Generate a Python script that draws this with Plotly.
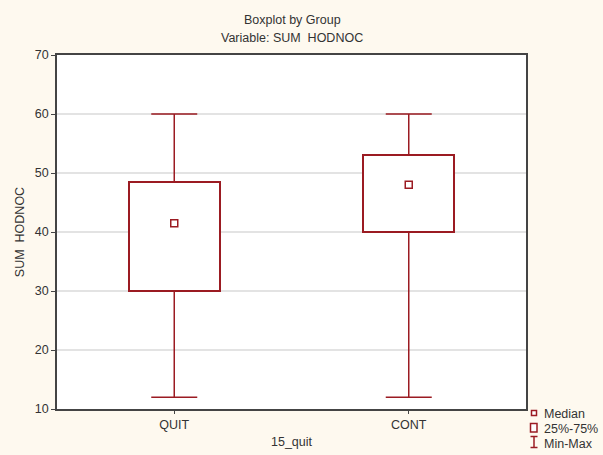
import plotly.graph_objects as go

groups = ["QUIT", "CONT"]
q_min = [12, 12]
q1 = [30, 40]
median = [41.5, 48]
q3 = [48.5, 53]
q_max = [60, 60]

y_ticks = [10, 20, 30, 40, 50, 60, 70]
legend_labels = ["Median", "25%-75%", "Min-Max"]

RED = "#9b1b22"
FONT = "Liberation Sans, Arial, sans-serif"
TXT = "#333333"

# plot area in pixels: x 57..526, y 55..409
L, R, T, B = 57, 526, 55, 409
W, H = R - L, B - T


def px(x):
    return (x - L) / W


def py(y):
    return (B - y) / H


fig = go.Figure()

# upper whiskers (Q3 -> max)
fig.add_trace(go.Scatter(
    x=groups, y=q3, mode="markers", marker=dict(size=1, color="rgba(0,0,0,0)"),
    error_y=dict(type="data", symmetric=False,
                 array=[a - b for a, b in zip(q_max, q3)],
                 arrayminus=[0, 0], color=RED, thickness=1.5, width=23),
    showlegend=False, hoverinfo="skip"))
# lower whiskers (min -> Q1)
fig.add_trace(go.Scatter(
    x=groups, y=q1, mode="markers", marker=dict(size=1, color="rgba(0,0,0,0)"),
    error_y=dict(type="data", symmetric=False,
                 array=[0, 0],
                 arrayminus=[a - b for a, b in zip(q1, q_min)],
                 color=RED, thickness=1.5, width=23),
    showlegend=False, hoverinfo="skip"))
# boxes
fig.add_trace(go.Bar(
    x=groups, y=[a - b for a, b in zip(q3, q1)], base=q1, width=0.39,
    marker=dict(color="white", line=dict(color=RED, width=2)),
    showlegend=False, hoverinfo="skip"))
# medians
fig.add_trace(go.Scatter(
    x=groups, y=median, mode="markers",
    marker=dict(symbol="square-open", size=7, color=RED, line=dict(width=1.5, color=RED)),
    showlegend=False, hoverinfo="skip"))

shapes = [
    # legend icons
    dict(type="rect", xref="paper", yref="paper", x0=px(531.5), x1=px(536.5), y0=py(410.5), y1=py(415.5),
         line=dict(color=RED, width=1.5), fillcolor="white"),
    dict(type="rect", xref="paper", yref="paper", x0=px(530.5), x1=px(537), y0=py(423.5), y1=py(432),
         line=dict(color=RED, width=1.5), fillcolor="white"),
    dict(type="line", xref="paper", yref="paper", x0=px(534), x1=px(534), y0=py(436.5), y1=py(447.5),
         line=dict(color=RED, width=1.5)),
    dict(type="line", xref="paper", yref="paper", x0=px(530.5), x1=px(537.5), y0=py(436.5), y1=py(436.5),
         line=dict(color=RED, width=1.5)),
    dict(type="line", xref="paper", yref="paper", x0=px(530.5), x1=px(537.5), y0=py(447.5), y1=py(447.5),
         line=dict(color=RED, width=1.5)),
]

annotations = [
    dict(text=legend_labels[0], xref="paper", yref="paper", x=px(542), y=py(413.5),
         xanchor="left", yanchor="middle", showarrow=False,
         font=dict(size=12.5, color=TXT, family=FONT)),
    dict(text=legend_labels[1], xref="paper", yref="paper", x=px(541.5), y=py(428.5),
         xanchor="left", yanchor="middle", showarrow=False,
         font=dict(size=12.5, color=TXT, family=FONT)),
    dict(text=legend_labels[2], xref="paper", yref="paper", x=px(541.5), y=py(443.5),
         xanchor="left", yanchor="middle", showarrow=False,
         font=dict(size=12.5, color=TXT, family=FONT)),
    dict(text="Boxplot by Group", xref="paper", yref="paper", x=px(292), y=py(20),
         xanchor="center", yanchor="middle", showarrow=False,
         font=dict(size=12.5, color=TXT, family=FONT)),
    dict(text="Variable: SUM\u00a0 HODNOC", xref="paper", yref="paper", x=px(292), y=py(38),
         xanchor="center", yanchor="middle", showarrow=False,
         font=dict(size=12.5, color=TXT, family=FONT)),
]

fig.update_layout(
    width=603, height=455,
    margin=dict(l=L, r=603 - R, t=T, b=455 - B, autoexpand=False),
    paper_bgcolor="#fef9ef",
    plot_bgcolor="white",
    font=dict(family=FONT, size=12.5, color=TXT),
    showlegend=False,
    shapes=shapes,
    annotations=annotations,
    bargap=0,
)

fig.update_xaxes(
    range=[-0.5, 1.5], showgrid=False, showline=True, linecolor="#444444", linewidth=1.5,
    mirror=True, ticks="outside", ticklen=3, tickcolor="#444444",
    title=dict(text="15_quit", standoff=6, font=dict(size=12.5, color=TXT)),
    tickfont=dict(size=12.5, color=TXT), zeroline=False)
fig.update_yaxes(
    range=[10, 70], tickvals=y_ticks, showgrid=True, gridcolor="#e3e3e3", gridwidth=1.5,
    showline=True, linecolor="#444444", linewidth=1.5, mirror=True,
    ticks="outside", ticklen=4, tickcolor="#444444", zeroline=False,
    title=dict(text="SUM\u00a0 HODNOC", standoff=7, font=dict(size=12.5, color=TXT)),
    tickfont=dict(size=12.5, color=TXT))

fig.write_html("out.html", config={"displayModeBar": False},
               post_script="document.body.style.margin='0';")
